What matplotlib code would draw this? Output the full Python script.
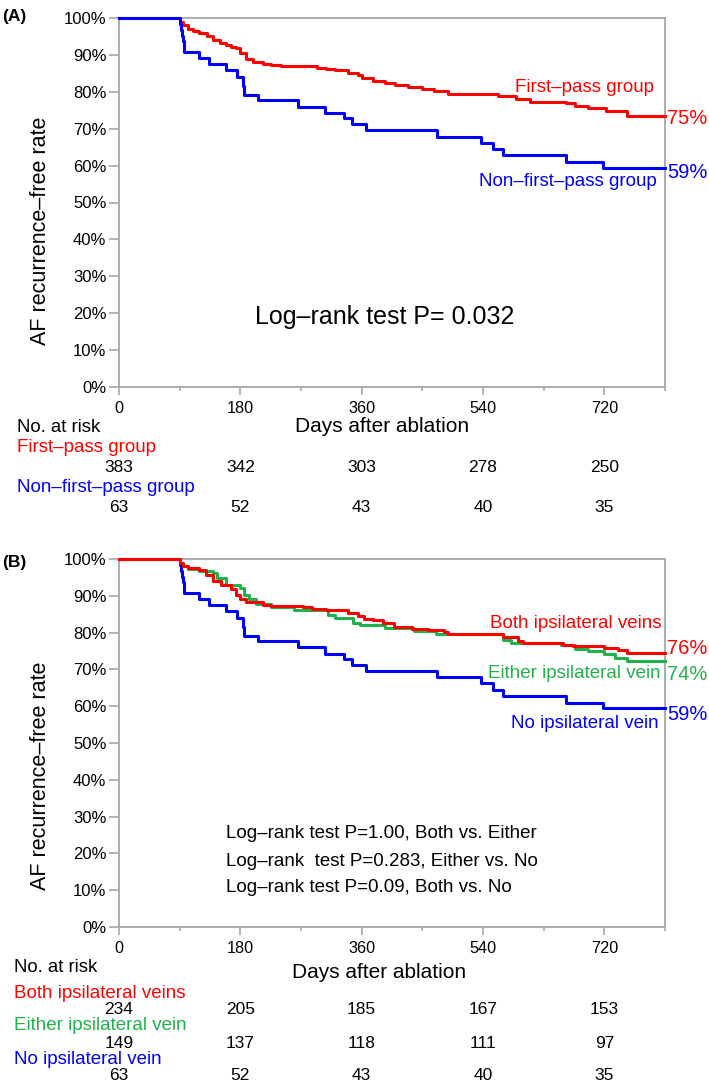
import matplotlib
matplotlib.use('Agg')
import matplotlib.pyplot as plt
from matplotlib import transforms, font_manager

plt.rcParams['font.family'] = ['Liberation Sans', 'DejaVu Sans']

# ---------------- data ----------------
x_ticks = [0, 180, 360, 540, 720]
x_minor = [90, 270, 450, 630, 810]
y_ticks = [0, 10, 20, 30, 40, 50, 60, 70, 80, 90, 100]
x_max = 810

# Panel A
fp_days = [0, 90, 95, 102, 110, 119, 130, 139, 150, 159, 166, 173, 180, 189, 199, 213,
           226, 240, 280, 293, 307, 320, 340, 354, 361, 377, 394, 410, 428, 450, 468,
           488, 562, 589, 609, 663, 676, 696, 723, 753, 810]
fp_surv = [100, 99.0, 98.0, 97.0, 96.5, 95.9, 95.0, 94.1, 93.3, 92.7, 92.2, 91.8, 90.5,
           88.8, 88.1, 87.6, 87.3, 87.0, 86.9, 86.4, 86.2, 85.9, 85.2, 84.5, 83.7, 83.0,
           82.3, 81.8, 81.2, 80.8, 80.3, 79.3, 78.9, 78.0, 77.2, 76.9, 76.2, 75.6, 74.9,
           73.5, 73.5]

nfp_days = [0, 90, 92, 94, 95, 96, 97, 119, 134, 159, 175, 184, 186, 206, 265, 306,
            334, 346, 366, 472, 537, 555, 570, 663, 718, 810]
nfp_surv = [100, 98.4, 96.8, 95.2, 93.7, 92.1, 90.8, 89.1, 87.6, 85.8, 84.1, 81.5, 79.1,
            77.8, 76.0, 74.3, 72.8, 71.3, 69.6, 67.8, 66.2, 64.5, 62.8, 61.0, 59.4, 59.4]

risk_days = [0, 180, 360, 540, 720]
risk_fp = [383, 342, 303, 278, 250]
risk_nfp = [63, 52, 43, 40, 35]

# Panel B
both_days = [0, 90, 95, 102, 119, 129, 139, 152, 166, 173, 179, 189, 213, 226, 273, 287,
             307, 340, 354, 364, 377, 391, 408, 435, 458, 482, 488, 569, 592, 599, 659,
             673, 720, 740, 753, 810]
both_surv = [100, 98.9, 98.2, 97.6, 96.9, 95.7, 93.9, 93.0, 91.9, 90.3, 89.0, 88.2, 87.6,
             87.3, 86.9, 86.4, 86.1, 85.3, 84.4, 83.8, 83.3, 82.6, 81.5, 81.0, 80.6, 80.1,
             79.5, 78.8, 77.6, 77.2, 76.7, 76.3, 75.8, 75.2, 74.5, 74.5]

either_days = [0, 90, 95, 102, 119, 139, 146, 159, 179, 186, 193, 203, 226, 260, 310, 320,
               347, 357, 394, 438, 471, 569, 582, 656, 676, 696, 720, 736, 753, 810]
either_surv = [100, 98.9, 98.0, 97.3, 96.7, 96.2, 94.8, 93.0, 92.1, 90.3, 89.0, 87.9, 87.0,
               86.2, 84.9, 84.0, 82.6, 82.0, 81.3, 80.4, 79.5, 78.1, 77.2, 76.5, 75.6, 74.9,
               74.3, 73.1, 72.2, 72.2]

no_days = nfp_days
no_surv = nfp_surv

risk_both = [234, 205, 185, 167, 153]
risk_either = [149, 137, 118, 111, 97]
risk_no = [63, 52, 43, 40, 35]

RED = '#ff0000'
BLUE = '#0000ff'
GREEN = '#22b04a'
GRAY = '#a6a6a6'

# condensed face for the large end-of-curve percentages, if available
_names = {f.name for f in font_manager.fontManager.ttflist}
if 'Liberation Sans Narrow' in _names:
    PCT_FAMILY = ['Liberation Sans Narrow', 'Liberation Sans']
    PCT = 17
else:
    PCT_FAMILY = ['Liberation Sans', 'DejaVu Sans']
    PCT = 14.5

W, H = 709, 1082
fig = plt.figure(figsize=(W / 100, H / 100), dpi=100)


def fx(px):
    return px / W


def fy(py):
    return 1 - py / H


def make_axes(top, bottom):
    ax = fig.add_axes([fx(119), fy(bottom), (665 - 119) / W, (bottom - top) / H])
    ax.set_xlim(0, x_max)
    ax.set_ylim(0, 100)
    ax.set_xticks(x_ticks)
    ax.set_xticklabels([str(v) for v in x_ticks])
    ax.set_xticks(x_minor, minor=True)
    ax.set_yticks(y_ticks)
    ax.set_yticklabels([f'{v}%' for v in y_ticks])
    for sp in ax.spines.values():
        sp.set_color(GRAY)
        sp.set_linewidth(1.3)
    ax.tick_params(axis='both', which='both', colors=GRAY, labelcolor='black', width=1.2)
    ax.tick_params(axis='y', length=7, pad=2, labelsize=12)
    ax.tick_params(axis='x', which='major', length=6, pad=4, labelsize=11.7)
    ax.tick_params(axis='x', which='minor', length=3)
    return ax


def pct(px, py, s, color):
    fig.text(fx(px), fy(py), s, color=color, fontsize=PCT, family=PCT_FAMILY,
             ha='left', va='center')


# ---------------- Panel A ----------------
axA = make_axes(18, 387)
axA.step(fp_days, fp_surv, where='post', color=RED, lw=2.2, clip_on=False, zorder=3)
axA.step(nfp_days, nfp_surv, where='post', color=BLUE, lw=2.2, clip_on=False, zorder=4)

fig.text(fx(2), fy(16), '(A)', fontsize=12.5, fontweight='bold', ha='left', va='center')
fig.text(fx(41), fy(231), 'AF recurrence\u2013free rate', rotation=90, ha='center',
         va='center', fontsize=15.5)
fig.text(fx(654), fy(87), 'First\u2013pass group', color=RED, fontsize=13.5,
         ha='right', va='center')
pct(667, 118, '75%', RED)
fig.text(fx(657), fy(182), 'Non\u2013first\u2013pass group', color=BLUE, fontsize=13.5,
         ha='right', va='center')
pct(667, 172, '59%', BLUE)
fig.text(fx(385), fy(317), 'Log\u2013rank test P= 0.032', fontsize=18, ha='center',
         va='center')

fig.text(fx(17), fy(427), 'No. at risk', fontsize=13.4, ha='left', va='center')
fig.text(fx(382), fy(427), 'Days after ablation', fontsize=15, ha='center', va='center')
fig.text(fx(17), fy(447), 'First\u2013pass group', color=RED, fontsize=13.5,
         ha='left', va='center')
fig.text(fx(17), fy(487), 'Non\u2013first\u2013pass group', color=BLUE, fontsize=13.5,
         ha='left', va='center')
trA = transforms.blended_transform_factory(axA.transData, fig.transFigure)
for d, n in zip(risk_days, risk_fp):
    axA.text(d, fy(467), str(n), transform=trA, ha='center', va='center', fontsize=12.5,
             clip_on=False)
for d, n in zip(risk_days, risk_nfp):
    axA.text(d, fy(507), str(n), transform=trA, ha='center', va='center', fontsize=12.5,
             clip_on=False)

# ---------------- Panel B ----------------
axB = make_axes(559, 927)
axB.step(no_days, no_surv, where='post', color=BLUE, lw=2.2, clip_on=False, zorder=3)
axB.step(either_days, either_surv, where='post', color=GREEN, lw=2.2, clip_on=False, zorder=4)
axB.step(both_days, both_surv, where='post', color=RED, lw=2.2, clip_on=False, zorder=5)

fig.text(fx(2), fy(562), '(B)', fontsize=12.5, fontweight='bold', ha='left', va='center')
fig.text(fx(41), fy(776), 'AF recurrence\u2013free rate', rotation=90, ha='center',
         va='center', fontsize=15.5)
fig.text(fx(661), fy(624), 'Both ipsilateral veins', color=RED, fontsize=13.5,
         ha='right', va='center')
pct(667, 648, '76%', RED)
fig.text(fx(661), fy(674), 'Either ipsilateral vein', color=GREEN, fontsize=13.5,
         ha='right', va='center')
pct(667, 674, '74%', GREEN)
fig.text(fx(659), fy(723), 'No ipsilateral vein', color=BLUE, fontsize=13.5,
         ha='right', va='center')
pct(667, 715, '59%', BLUE)

logrank_lines = ['Log\u2013rank test P=1.00, Both vs. Either',
                 'Log\u2013rank  test P=0.283, Either vs. No',
                 'Log\u2013rank test P=0.09, Both vs. No']
for txt, py in zip(logrank_lines, [834, 861, 888]):
    fig.text(fx(226), fy(py), txt, fontsize=13.5, ha='left', va='center')

fig.text(fx(14), fy(968), 'No. at risk', fontsize=13.4, ha='left', va='center')
fig.text(fx(379), fy(973), 'Days after ablation', fontsize=15, ha='center', va='center')
fig.text(fx(14), fy(993), 'Both ipsilateral veins', color=RED, fontsize=13.5,
         ha='left', va='center')
fig.text(fx(14), fy(1025), 'Either ipsilateral vein', color=GREEN, fontsize=13.5,
         ha='left', va='center')
fig.text(fx(14), fy(1059), 'No ipsilateral vein', color=BLUE, fontsize=13.5,
         ha='left', va='center')
trB = transforms.blended_transform_factory(axB.transData, fig.transFigure)
for row, py in zip([risk_both, risk_either, risk_no], [1010, 1043, 1075]):
    for d, n in zip(risk_days, row):
        axB.text(d, fy(py), str(n), transform=trB, ha='center', va='center',
                 fontsize=12.5, clip_on=False)

fig.savefig('out.png', dpi=100)
